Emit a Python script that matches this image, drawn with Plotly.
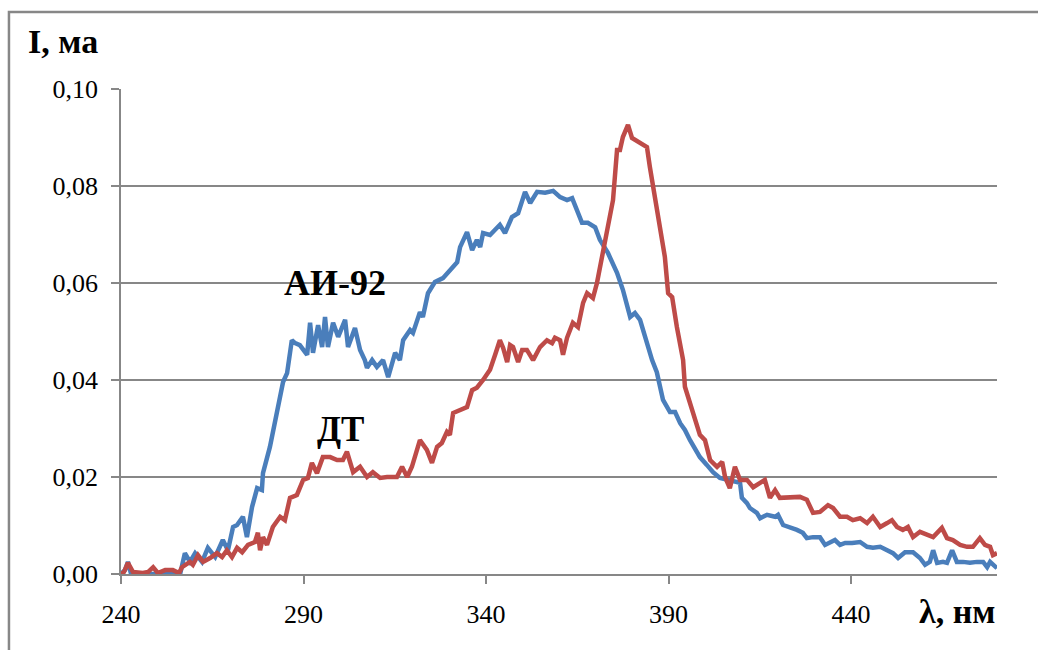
import plotly.graph_objects as go

# Emission spectra: wavelength (nm) and current I (mA)
ai92_wl = [240.0, 241.1, 241.9, 242.7, 245.2, 250.7, 256.2, 257.5, 258.9, 260.3, 262.2, 263.8,
           265.8, 267.9, 269.3, 270.7, 271.8, 273.4, 274.5, 275.9, 277.3, 278.6, 278.9, 280.8,
           282.2, 283.6, 284.4, 285.5, 286.8, 287.7, 289.0, 291.0, 291.8, 292.6, 294.0, 295.1,
           295.9, 296.7, 298.1, 299.5, 301.4, 302.2, 304.1, 305.5, 306.8, 307.4, 308.8, 310.1,
           311.8, 313.2, 315.1, 316.4, 317.3, 319.2, 320.0, 321.9, 322.7, 324.1, 326.0, 328.2,
           330.1, 332.1, 332.9, 334.8, 336.2, 337.5, 338.4, 339.2, 341.1, 343.8, 345.2, 347.1,
           348.8, 350.7, 352.1, 354.0, 356.2, 358.4, 360.3, 362.2, 363.6, 364.9, 366.3, 367.9,
           369.9, 371.2, 373.4, 375.9, 377.5, 379.5, 380.8, 382.2, 384.1, 385.5, 386.8, 387.7,
           388.5, 390.4, 391.8, 393.2, 394.5, 395.9, 397.3, 398.6, 400.5, 402.2, 404.1, 406.0,
           407.7, 409.6, 410.1, 411.5, 412.3, 414.2, 415.1, 417.0, 419.2, 420.0, 421.4, 423.3,
           425.2, 426.8, 427.9, 429.6, 431.5, 432.9, 434.2, 435.6, 437.0, 438.4, 440.3, 442.5,
           444.4, 446.0, 448.0, 449.9, 451.5, 452.9, 454.8, 457.0, 458.9, 460.3, 461.6, 462.5,
           463.6, 465.2, 466.3, 467.7, 469.0, 470.7, 472.6, 474.5, 476.2, 477.3, 478.1, 480.0]
ai92_i = [0.0000, 0.0008, 0.0025, 0.0002, 0.0000, 0.0000, 0.0000, 0.0043, 0.0025, 0.0043, 0.0025, 0.0054,
          0.0035, 0.0070, 0.0049, 0.0097, 0.0101, 0.0118, 0.0076, 0.0138, 0.0177, 0.0173, 0.0208, 0.0262,
          0.0318, 0.0369, 0.0396, 0.0414, 0.0482, 0.0476, 0.0472, 0.0452, 0.0518, 0.0456, 0.0513, 0.0468,
          0.0530, 0.0468, 0.0518, 0.0489, 0.0524, 0.0468, 0.0507, 0.0462, 0.0441, 0.0425, 0.0441, 0.0427,
          0.0441, 0.0406, 0.0456, 0.0441, 0.0482, 0.0503, 0.0497, 0.0540, 0.0530, 0.0579, 0.0602, 0.0610,
          0.0627, 0.0643, 0.0674, 0.0705, 0.0668, 0.0689, 0.0674, 0.0703, 0.0699, 0.0720, 0.0703, 0.0736,
          0.0744, 0.0788, 0.0765, 0.0788, 0.0786, 0.0790, 0.0777, 0.0771, 0.0775, 0.0751, 0.0724, 0.0724,
          0.0715, 0.0689, 0.0662, 0.0621, 0.0586, 0.0530, 0.0538, 0.0524, 0.0476, 0.0441, 0.0416, 0.0386,
          0.0359, 0.0334, 0.0334, 0.0311, 0.0297, 0.0276, 0.0256, 0.0241, 0.0225, 0.0210, 0.0198, 0.0194,
          0.0190, 0.0188, 0.0157, 0.0146, 0.0136, 0.0126, 0.0115, 0.0122, 0.0118, 0.0122, 0.0101, 0.0097,
          0.0091, 0.0085, 0.0074, 0.0076, 0.0076, 0.0060, 0.0064, 0.0070, 0.0060, 0.0064, 0.0064, 0.0066,
          0.0056, 0.0054, 0.0056, 0.0049, 0.0043, 0.0033, 0.0045, 0.0045, 0.0033, 0.0019, 0.0025, 0.0049,
          0.0023, 0.0025, 0.0023, 0.0049, 0.0025, 0.0025, 0.0023, 0.0025, 0.0025, 0.0014, 0.0025, 0.0012]

dt_wl = [240.0, 240.8, 241.9, 243.3, 246.0, 247.4, 248.8, 250.1, 252.1, 254.2, 255.9, 256.7,
         258.9, 259.7, 261.1, 262.5, 264.4, 266.3, 267.7, 269.0, 270.4, 271.8, 273.2, 274.8,
         276.7, 277.5, 278.1, 278.9, 280.0, 281.6, 283.6, 284.9, 286.3, 288.2, 289.9, 291.2,
         292.3, 293.7, 295.3, 297.3, 299.2, 300.8, 301.9, 303.6, 305.5, 307.4, 309.0, 311.0,
         312.9, 314.5, 315.6, 317.0, 318.4, 319.7, 321.9, 323.8, 325.2, 326.6, 327.9, 329.3,
         330.1, 331.0, 332.9, 334.8, 336.2, 337.5, 339.2, 341.1, 342.5, 343.8, 344.7, 345.8,
         346.6, 347.4, 348.8, 349.9, 351.2, 352.9, 354.8, 356.7, 358.1, 358.9, 360.3, 361.1,
         362.2, 363.8, 365.2, 366.6, 367.7, 369.3, 370.4, 371.8, 373.4, 374.8, 375.9, 376.7,
         377.5, 378.9, 380.0, 381.6, 384.1, 384.9, 386.3, 387.7, 389.0, 389.9, 391.0, 392.3,
         393.2, 394.0, 394.5, 395.9, 397.8, 398.6, 400.0, 401.4, 403.3, 404.7, 405.5, 406.8,
         408.2, 409.6, 411.5, 413.2, 415.1, 416.4, 417.8, 419.2, 420.5, 422.5, 424.1, 426.0,
         427.9, 429.6, 431.5, 433.7, 435.1, 437.0, 438.9, 440.5, 442.5, 444.4, 446.0, 448.0,
         449.9, 451.2, 452.6, 454.2, 455.6, 457.0, 458.9, 460.8, 462.5, 464.9, 466.3, 467.9,
         469.9, 471.8, 473.4, 475.3, 476.7, 478.1, 478.9, 480.0]
dt_i = [0.0000, 0.0004, 0.0023, 0.0004, 0.0002, 0.0004, 0.0014, 0.0002, 0.0008, 0.0008, 0.0002, 0.0014,
        0.0025, 0.0019, 0.0039, 0.0025, 0.0033, 0.0043, 0.0035, 0.0049, 0.0035, 0.0054, 0.0045, 0.0060,
        0.0066, 0.0085, 0.0049, 0.0076, 0.0060, 0.0097, 0.0118, 0.0111, 0.0157, 0.0163, 0.0194, 0.0198,
        0.0229, 0.0208, 0.0241, 0.0241, 0.0235, 0.0235, 0.0252, 0.0210, 0.0221, 0.0200, 0.0210, 0.0198,
        0.0200, 0.0200, 0.0200, 0.0221, 0.0200, 0.0221, 0.0276, 0.0256, 0.0229, 0.0262, 0.0270, 0.0293,
        0.0287, 0.0332, 0.0338, 0.0344, 0.0379, 0.0384, 0.0400, 0.0421, 0.0452, 0.0482, 0.0466, 0.0437,
        0.0472, 0.0468, 0.0437, 0.0462, 0.0462, 0.0441, 0.0468, 0.0482, 0.0476, 0.0487, 0.0482, 0.0452,
        0.0487, 0.0518, 0.0509, 0.0559, 0.0579, 0.0569, 0.0600, 0.0654, 0.0715, 0.0771, 0.0874, 0.0874,
        0.0901, 0.0926, 0.0899, 0.0891, 0.0880, 0.0839, 0.0777, 0.0715, 0.0654, 0.0579, 0.0571, 0.0509,
        0.0476, 0.0441, 0.0386, 0.0353, 0.0311, 0.0287, 0.0276, 0.0235, 0.0221, 0.0231, 0.0200, 0.0177,
        0.0221, 0.0194, 0.0194, 0.0179, 0.0188, 0.0194, 0.0157, 0.0173, 0.0157, 0.0157, 0.0157, 0.0159,
        0.0153, 0.0126, 0.0128, 0.0142, 0.0136, 0.0118, 0.0118, 0.0111, 0.0115, 0.0105, 0.0118, 0.0097,
        0.0105, 0.0111, 0.0097, 0.0091, 0.0097, 0.0076, 0.0087, 0.0080, 0.0076, 0.0095, 0.0074, 0.0070,
        0.0060, 0.0056, 0.0056, 0.0074, 0.0060, 0.0056, 0.0039, 0.0043]

x_ticks = [240, 290, 340, 390, 440]
y_ticks = [0.00, 0.02, 0.04, 0.06, 0.08, 0.10]

series_names = ["АИ-92", "ДТ"]
series_colors = ["#4A7EBB", "#BE4B48"]

SERIF = "Liberation Serif, Times New Roman, serif"
GRID = "#878787"

fig = go.Figure()
fig.add_trace(go.Scatter(x=ai92_wl, y=ai92_i, mode="lines", name=series_names[0],
                         line=dict(color=series_colors[0], width=4.5)))
fig.add_trace(go.Scatter(x=dt_wl, y=dt_i, mode="lines", name=series_names[1],
                         line=dict(color=series_colors[1], width=4.5)))

# series labels placed next to the curves
fig.add_annotation(x=298.6, y=0.0600, text="<b>АИ-92</b>", showarrow=False,
                   font=dict(family=SERIF, size=36, color="black"))
fig.add_annotation(x=300.0, y=0.0297, text="<b>ДТ</b>", showarrow=False,
                   font=dict(family=SERIF, size=35, color="black"))

# axis titles
fig.add_annotation(xref="paper", yref="paper", x=-0.108, y=1.097, xanchor="left", yanchor="middle",
                   text="<b>I, ма</b>", showarrow=False, font=dict(family=SERIF, size=34, color="black"))
fig.add_annotation(xref="paper", yref="paper", x=1.0, y=-0.078, xanchor="right", yanchor="middle",
                   text="<b>λ, нм</b>", showarrow=False, font=dict(family=SERIF, size=34, color="black"))

# chart frame
fig.add_shape(type="rect", xref="paper", yref="paper", x0=-0.1279, y0=-0.3, x1=1.2, y1=1.1588,
              line=dict(color="#878787", width=2.5), fillcolor="rgba(0,0,0,0)", layer="below")

fig.update_layout(
    width=1038, height=650,
    margin=dict(l=121, r=41, t=89, b=76),
    paper_bgcolor="white", plot_bgcolor="white",
    separators=", ",
    showlegend=False,
    font=dict(family=SERIF, size=26, color="black"),
)
fig.update_xaxes(range=[240, 480], tickvals=x_ticks, ticktext=[str(v) for v in x_ticks],
                 showgrid=False, showline=True, linecolor=GRID, linewidth=1.5,
                 ticks="outside", ticklen=8, tickcolor=GRID, tickwidth=1.5,
                 ticklabelstandoff=8, zeroline=False)
fig.update_yaxes(range=[0, 0.1], tickvals=y_ticks, tickformat=".2f",
                 showgrid=True, gridcolor=GRID, gridwidth=1.5,
                 showline=True, linecolor=GRID, linewidth=1.5,
                 ticks="outside", ticklen=8, tickcolor=GRID, tickwidth=1.5,
                 ticklabelstandoff=8, zeroline=False)

fig.write_html("out.html")
